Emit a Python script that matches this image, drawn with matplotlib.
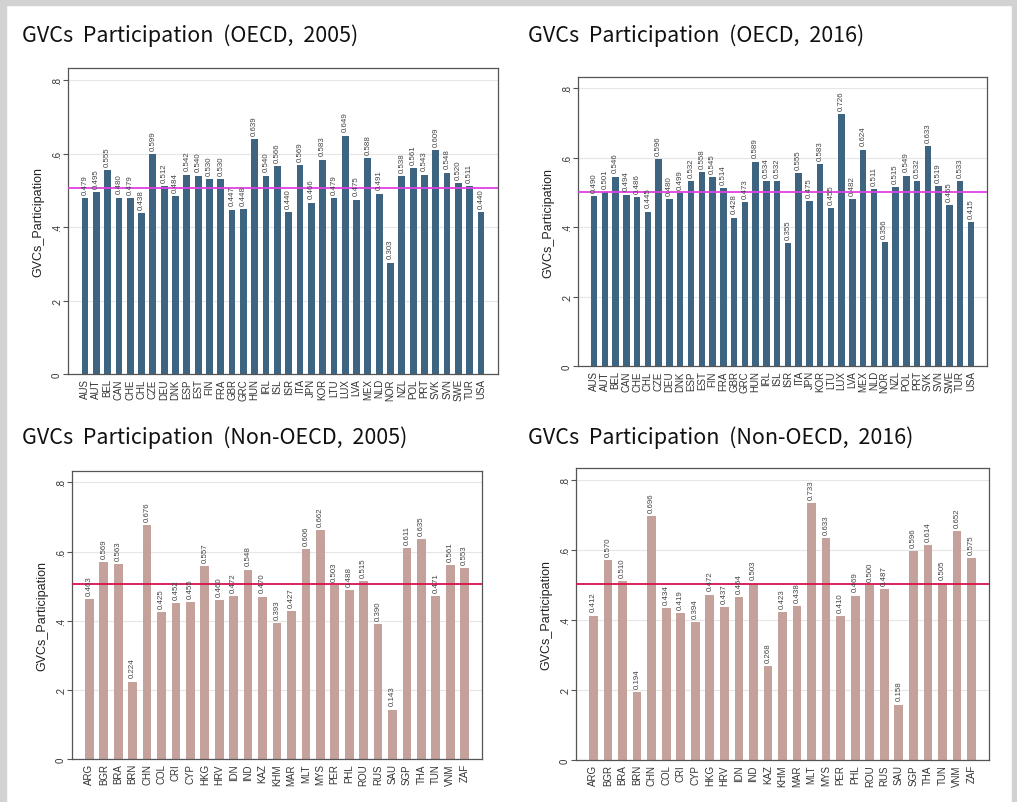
import numpy as np
import matplotlib
matplotlib.use("Agg")
import matplotlib.pyplot as plt
from matplotlib.patches import Rectangle

# --- DATA ---
oecd_countries = ['AUS', 'AUT', 'BEL', 'CAN', 'CHE', 'CHL', 'CZE', 'DEU', 'DNK', 'ESP',
                  'EST', 'FIN', 'FRA', 'GBR', 'GRC', 'HUN', 'IRL', 'ISL', 'ISR', 'ITA',
                  'JPN', 'KOR', 'LTU', 'LUX', 'LVA', 'MEX', 'NLD', 'NOR', 'NZL', 'POL',
                  'PRT', 'SVK', 'SVN', 'SWE', 'TUR', 'USA']
oecd_2005 = [0.479, 0.495, 0.555, 0.480, 0.479, 0.438, 0.599, 0.512, 0.484, 0.542,
             0.540, 0.530, 0.530, 0.447, 0.448, 0.639, 0.540, 0.566, 0.440, 0.569,
             0.466, 0.583, 0.479, 0.649, 0.475, 0.588, 0.491, 0.303, 0.538, 0.561,
             0.543, 0.609, 0.548, 0.520, 0.511, 0.440]
oecd_2016 = [0.490, 0.501, 0.546, 0.494, 0.486, 0.445, 0.596, 0.480, 0.499, 0.532,
             0.558, 0.545, 0.514, 0.428, 0.473, 0.589, 0.534, 0.532, 0.355, 0.555,
             0.475, 0.583, 0.455, 0.726, 0.482, 0.624, 0.511, 0.356, 0.515, 0.549,
             0.532, 0.633, 0.519, 0.465, 0.533, 0.415]

non_oecd_countries = ['ARG', 'BGR', 'BRA', 'BRN', 'CHN', 'COL', 'CRI', 'CYP', 'HKG', 'HRV',
                      'IDN', 'IND', 'KAZ', 'KHM', 'MAR', 'MLT', 'MYS', 'PER', 'PHL', 'ROU',
                      'RUS', 'SAU', 'SGP', 'THA', 'TUN', 'VNM', 'ZAF']
non_oecd_2005 = [0.463, 0.569, 0.563, 0.224, 0.676, 0.425, 0.452, 0.455, 0.557, 0.460,
                 0.472, 0.548, 0.470, 0.393, 0.427, 0.606, 0.662, 0.503, 0.488, 0.515,
                 0.390, 0.143, 0.611, 0.635, 0.471, 0.561, 0.553]
non_oecd_2016 = [0.412, 0.570, 0.510, 0.194, 0.696, 0.434, 0.419, 0.394, 0.472, 0.437,
                 0.464, 0.503, 0.268, 0.423, 0.438, 0.733, 0.633, 0.410, 0.469, 0.500,
                 0.487, 0.158, 0.596, 0.614, 0.505, 0.652, 0.575]

# reference (world) lines
ref_2005 = 0.507
ref_2016 = 0.501

# --- STYLE ---
W, H = 1017, 803
oecd_color = '#3d6480'
non_color = '#c4a19b'
oecd_line = '#e040e0'
non_line = '#d8124f'
title_font = ['Noto Sans CJK KR', 'DejaVu Sans']
label_font = ['Liberation Sans', 'DejaVu Sans']

fig = plt.figure(figsize=(W / 100, H / 100), dpi=100)

# light grey frame round the picture
for (x0, y0, w, h) in [(0, H - 6, W, 6), (0, 0, 6, H), (W - 5, 0, 5, H)]:
    fig.patches.append(Rectangle((x0 / W, y0 / H), w / W, h / H, transform=fig.transFigure,
                                 color='#d2d2d2', zorder=0))

panels = [
    # title, countries, values, colour, line colour, ref, box (left, right, top, bottom), title pos
    ('GVCs  Participation  (OECD,  2005)', oecd_countries, oecd_2005, oecd_color, oecd_line, ref_2005,
     (68, 498, 69, 375), (22, 36)),
    ('GVCs  Participation  (OECD,  2016)', oecd_countries, oecd_2016, oecd_color, oecd_line, ref_2016,
     (578, 987, 78, 367), (528, 36)),
    ('GVCs  Participation  (Non-OECD,  2005)', non_oecd_countries, non_oecd_2005, non_color, non_line, ref_2005,
     (72, 482, 472, 760), (22, 438)),
    ('GVCs  Participation  (Non-OECD,  2016)', non_oecd_countries, non_oecd_2016, non_color, non_line, ref_2016,
     (576, 989, 469, 761), (528, 438)),
]

for title, countries, values, color, lcolor, ref, box, tpos in panels:
    left, right, top, bottom = box
    ax = fig.add_axes([left / W, 1 - bottom / H, (right - left) / W, (bottom - top) / H])
    x = np.arange(len(countries))
    ax.bar(x, values, width=0.6, color=color, zorder=2)
    ax.axhline(ref, color=lcolor, linewidth=1.3, zorder=3)

    for xi, v in zip(x, values):
        ax.text(xi, v + 0.012, f'{v:.3f}', rotation=90, ha='center', va='bottom',
                fontsize=5.7, color='#444444', family=label_font, zorder=4)

    n = len(countries)
    margin = 1.5 if n > 30 else 1.2
    ax.set_xlim(-margin, n - 1 + margin)
    ax.set_ylim(0, 0.833)
    ax.set_xticks(x)
    ax.set_xticklabels(countries, rotation=90, fontsize=7, color='#333333', family=label_font)
    ax.tick_params(axis='x', length=0, pad=3)
    ax.set_yticks([0, 0.2, 0.4, 0.6, 0.8])
    ax.set_yticklabels(['0', '.2', '.4', '.6', '.8'], rotation=90, va='center',
                       fontsize=7, color='#333333', family=label_font)
    ax.tick_params(axis='y', length=3.5, width=0.8, color='#555555', pad=1)
    ax.set_ylabel('GVCs_Participation', fontsize=9, color='#222222', family=label_font, labelpad=5)
    ax.grid(axis='y', color='#e6e6e6', linewidth=0.8, zorder=0)
    ax.set_axisbelow(True)
    for s in ax.spines.values():
        s.set_color('#555555')
        s.set_linewidth(0.9)

    fig.text(tpos[0] / W, 1 - tpos[1] / H, title, fontsize=15.5, family=title_font,
             ha='left', va='center', color='#111111')

fig.savefig('out.png', dpi=100, facecolor='white')
